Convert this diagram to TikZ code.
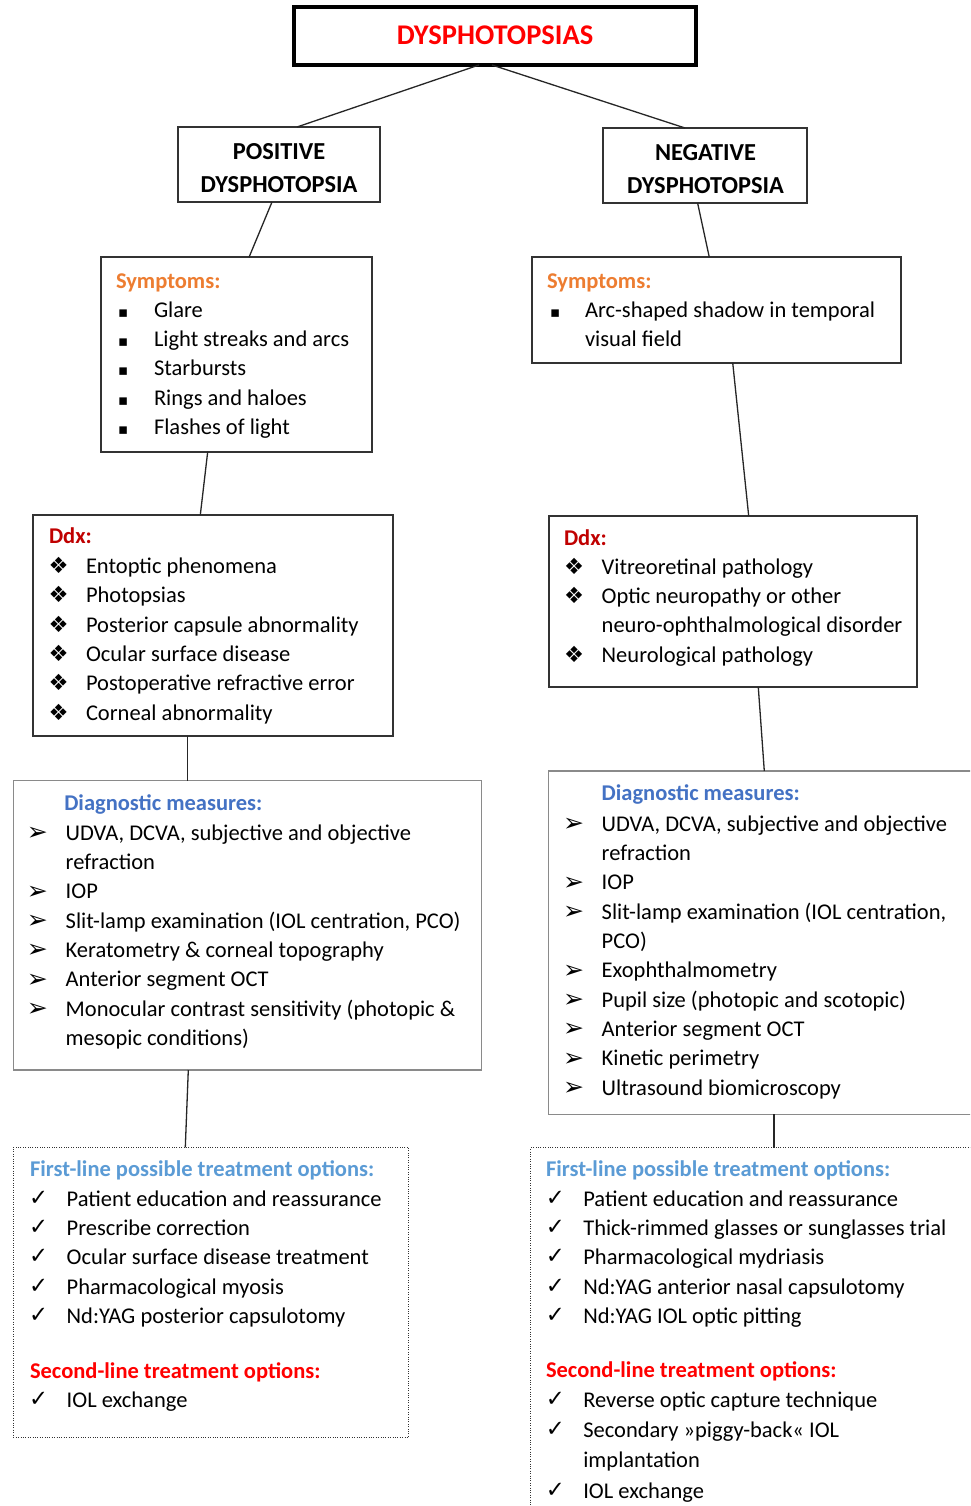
\documentclass[tikz,border=0pt]{standalone}
\usepackage{fontspec}
\usepackage{graphicx}
\setmainfont{Carlito}
\newfontfamily\symf{DejaVu Sans}
\usetikzlibrary{calc}
\definecolor{ttlred}{HTML}{FF0000}
\definecolor{symor}{HTML}{ED7D31}
\definecolor{ddxred}{HTML}{C00000}
\definecolor{diagblue}{HTML}{4472C4}
\definecolor{firstblue}{HTML}{5B9BD5}
\definecolor{boxgray}{HTML}{333333}
\definecolor{diaggray}{HTML}{8A8A8A}
\newlength\bw
\newcommand\itm[2]{\hbox{\makebox[\bw][l]{#1}#2}}
\newcommand\cnt[1]{\hbox{\hspace{\bw}#1}}
\newcommand\sqb{{\symf\fontsize{15}{15}\selectfont ▪}}
\newcommand\dmd{\hspace{-1.5pt}\resizebox{20pt}{!}{\symf ❖}}
\newcommand\arw{\hspace{-2pt}\raisebox{-0.5pt}{\resizebox{21pt}{!}{\symf ➢}}}
\newcommand\chk{\hspace{-1.5pt}\raisebox{1pt}{\resizebox{19pt}{!}{\symf\bfseries ✓}}}
\begin{document}
\begin{tikzpicture}[x=1pt,y=-1pt,
  box/.style={draw=boxgray, line width=2pt, anchor=north west, inner sep=0pt, outer sep=0pt},
  topbox/.style={box, draw=black, line width=3.5pt},
  diagbox/.style={box, draw=diaggray, line width=1.5pt},
  dotbox/.style={box, draw=boxgray, line width=1.2pt, dash pattern=on 1pt off 1.4pt},
  conn/.style={draw=black!85, line width=1.3pt},
  tx/.style={inner sep=0pt, outer sep=0pt, anchor=base west, font=\fontsize{22.5}{29.35}\selectfont},
  hd/.style={tx, font=\fontsize{22.5}{29.35}\selectfont\bfseries},
  captxt/.style={inner sep=0pt, outer sep=0pt, anchor=base, font=\fontsize{24.4}{32.7}\selectfont\bfseries}
]
\useasboundingbox (0,0) rectangle (970,1506);
\clip (0,0) rectangle (970,1506);
\fill[white] (0,0) rectangle (970,1506);

% boxes
\node[topbox, minimum width=402pt, minimum height=58pt] (top) at (294,7) {};
\node[box, minimum width=202pt, minimum height=75pt] (pos) at (178,127) {};
\node[box, minimum width=204pt, minimum height=75pt] (neg) at (603,128) {};
\node[box, minimum width=271pt, minimum height=194.4pt] (sympL) at (101,257.3) {};
\node[box, minimum width=369pt, minimum height=105.4pt] (sympR) at (532,257.3) {};
\node[box, minimum width=360pt, minimum height=221pt] (ddxL) at (33,515) {};
\node[box, minimum width=368.6pt, minimum height=171.3pt] (ddxR) at (548.7,516) {};
\node[diagbox, minimum width=468pt, minimum height=289.3pt] (diagL) at (13.3,780.7) {};
\node[diagbox, minimum width=441.3pt, minimum height=343.3pt] (diagR) at (548.7,771) {};
\node[dotbox, minimum width=395.4pt, minimum height=290pt] (treatL) at (13.3,1147.3) {};
\node[dotbox, minimum width=459.3pt, minimum height=400pt] (treatR) at (530.7,1147.7) {};

% connectors
\draw[conn] ($(top.south west)+(185,0)$) -- ($(pos.north west)+(119,0)$);
\draw[conn] ($(top.south west)+(198,0)$) -- ($(neg.north west)+(82,0)$);
\draw[conn] ($(pos.south west)+(94,0)$) -- ($(sympL.north west)+(148,0)$);
\draw[conn] ($(neg.south west)+(94.6,0)$) -- ($(sympR.north west)+(177.3,0)$);
\draw[conn] ($(sympL.south west)+(106.7,0)$) -- ($(ddxL.north west)+(167.3,0)$);
\draw[conn] ($(sympR.south west)+(200.7,0)$) -- ($(ddxR.north west)+(200,0)$);
\draw[conn] ($(ddxL.south west)+(154.7,0)$) -- ($(diagL.north west)+(174.4,0)$);
\draw[conn] ($(ddxR.south west)+(209.6,0)$) -- ($(diagR.north west)+(215.6,0)$);
\draw[conn] ($(diagL.south west)+(175,0)$) -- ($(treatL.north west)+(172,0)$);
\draw[conn] ($(diagR.south west)+(225.3,0)$) -- ($(treatR.north west)+(243.3,0)$);

% titles
\node[inner sep=0pt, anchor=base, text=ttlred, font=\fontsize{28.5}{30}\selectfont\bfseries] (topT) at (495,44.3) {DYSPHOTOPSIAS};
\node[captxt] (posT) at (279,160) {\vtop{\hbox to 0pt{\hss POSITIVE\hss}\hbox to 0pt{\hss DYSPHOTOPSIA\hss}}};
\node[captxt] (negT) at (705.5,160.5) {\vtop{\hbox to 0pt{\hss NEGATIVE\hss}\hbox to 0pt{\hss DYSPHOTOPSIA\hss}}};

% symptoms
\node[hd, text=symor] (sympLt) at (116,288.3) {Symptoms:};
\node[tx] (sympLi) at (118,317) {\setlength\bw{36pt}\vtop{%
  \itm{\sqb}{Glare}\itm{\sqb}{Light streaks and arcs}\itm{\sqb}{Starbursts}%
  \itm{\sqb}{Rings and haloes}\itm{\sqb}{Flashes of light}}};
\node[hd, text=symor] (sympRt) at (547,288.3) {Symptoms:};
\node[tx] (sympRi) at (550,317) {\setlength\bw{35pt}\vtop{%
  \itm{\sqb}{Arc-shaped shadow in temporal}\cnt{visual field}}};

% ddx
\node[hd, text=ddxred] (ddxLt) at (49,543.3) {Ddx:};
\node[tx] (ddxLi) at (50,573.3) {\setlength\bw{36pt}\vtop{%
  \itm{\dmd}{Entoptic phenomena}\itm{\dmd}{Photopsias}%
  \itm{\dmd}{Posterior capsule abnormality}\itm{\dmd}{Ocular surface disease}%
  \itm{\dmd}{Postoperative refractive error}\itm{\dmd}{Corneal abnormality}}};
\node[hd, text=ddxred] (ddxRt) at (564,545) {Ddx:};
\node[tx] (ddxRi) at (565.7,574) {\setlength\bw{36pt}\vtop{%
  \itm{\dmd}{Vitreoretinal pathology}\itm{\dmd}{Optic neuropathy or other}%
  \cnt{neuro-ophthalmological disorder}\itm{\dmd}{Neurological pathology}}};

% diagnostic measures
\node[hd, text=diagblue] (diagLt) at (64.3,810) {Diagnostic measures:};
\node[tx] (diagLi) at (29,840) {\setlength\bw{36.7pt}\vtop{%
  \itm{\arw}{UDVA, DCVA, subjective and objective}\cnt{refraction}%
  \itm{\arw}{IOP}\itm{\arw}{Slit-lamp examination (IOL centration, PCO)}%
  \itm{\arw}{Keratometry \& corneal topography}\itm{\arw}{Anterior segment OCT}%
  \itm{\arw}{Monocular contrast sensitivity (photopic \&}\cnt{mesopic conditions)}}};
\node[hd, text=diagblue] (diagRt) at (601.7,800.7) {Diagnostic measures:};
\node[tx] (diagRi) at (565,831) {\setlength\bw{36.7pt}\vtop{%
  \itm{\arw}{UDVA, DCVA, subjective and objective}\cnt{refraction}%
  \itm{\arw}{IOP}\itm{\arw}{Slit-lamp examination (IOL centration,}\cnt{PCO)}%
  \itm{\arw}{Exophthalmometry}\itm{\arw}{Pupil size (photopic and scotopic)}%
  \itm{\arw}{Anterior segment OCT}\itm{\arw}{Kinetic perimetry}%
  \itm{\arw}{Ultrasound biomicroscopy}}};

% treatment
\node[hd, text=firstblue] (treatLt) at (30,1176.7) {First-line possible treatment options:};
\node[tx] (treatLi) at (30.7,1206) {\setlength\bw{36pt}\vtop{%
  \itm{\chk}{Patient education and reassurance}\itm{\chk}{Prescribe correction}%
  \itm{\chk}{Ocular surface disease treatment}\itm{\chk}{Pharmacological myosis}%
  \itm{\chk}{Nd:YAG posterior capsulotomy}}};
\node[hd, text=ttlred] (treatLs) at (30,1378.3) {Second-line treatment options:};
\node[tx] (treatLj) at (30.7,1407.3) {\setlength\bw{36pt}\vtop{\itm{\chk}{IOL exchange}}};

\node[hd, text=firstblue] (treatRt) at (546,1176.7) {First-line possible treatment options:};
\node[tx] (treatRi) at (547.3,1206) {\setlength\bw{36pt}\vtop{%
  \itm{\chk}{Patient education and reassurance}\itm{\chk}{Thick-rimmed glasses or sunglasses trial}%
  \itm{\chk}{Pharmacological mydriasis}\itm{\chk}{Nd:YAG anterior nasal capsulotomy}%
  \itm{\chk}{Nd:YAG IOL optic pitting}}};
\node[hd, text=ttlred] (treatRs) at (546,1377.7) {Second-line treatment options:};
\node[tx, font=\fontsize{22.5}{30.3}\selectfont] (treatRj) at (547.3,1407.3) {\setlength\bw{36pt}\vtop{%
  \itm{\chk}{Reverse optic capture technique}\itm{\chk}{Secondary »piggy-back« IOL}%
  \cnt{implantation}\itm{\chk}{IOL exchange}}};
\end{tikzpicture}
\end{document}
